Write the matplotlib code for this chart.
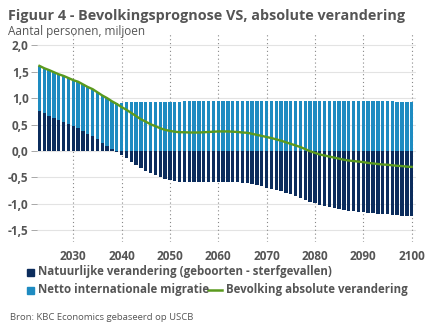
import matplotlib.pyplot as plt
import numpy as np

# jaren 2023-2100
years = list(range(2023, 2101))

# natuurlijke verandering (geboorten - sterfgevallen), miljoen
natural = [0.76, 0.715, 0.67, 0.63, 0.59, 0.55, 0.51, 0.47, 0.43, 0.38,
           0.33, 0.28, 0.22, 0.16, 0.10, 0.04, -0.02, -0.08, -0.14, -0.20,
           -0.26, -0.32, -0.37, -0.42, -0.46, -0.50, -0.53, -0.55, -0.57, -0.58,
           -0.585, -0.59, -0.59, -0.59, -0.59, -0.585, -0.58, -0.58, -0.58, -0.58,
           -0.585, -0.59, -0.60, -0.61, -0.63, -0.65, -0.67, -0.69, -0.71, -0.735,
           -0.76, -0.79, -0.82, -0.85, -0.88, -0.92, -0.96, -0.99, -1.02, -1.04,
           -1.06, -1.08, -1.10, -1.115, -1.13, -1.14, -1.15, -1.16, -1.17, -1.18,
           -1.19, -1.195, -1.20, -1.21, -1.215, -1.22, -1.225, -1.23]

# netto internationale migratie, miljoen
migration = [0.85, 0.85, 0.86, 0.86, 0.86, 0.87, 0.87, 0.87, 0.88, 0.88,
             0.88, 0.89, 0.89, 0.89, 0.90, 0.90, 0.91, 0.91, 0.92, 0.92,
             0.92, 0.92, 0.925, 0.925, 0.93, 0.93, 0.93, 0.93, 0.935, 0.935,
             0.94, 0.94, 0.94, 0.94, 0.945, 0.945, 0.945, 0.95, 0.95, 0.95,
             0.95, 0.95, 0.95, 0.955, 0.955, 0.955, 0.955, 0.955, 0.955, 0.955,
             0.955, 0.955, 0.955, 0.955, 0.955, 0.955, 0.955, 0.955, 0.955, 0.955,
             0.955, 0.955, 0.955, 0.95, 0.95, 0.95, 0.95, 0.95, 0.945, 0.945,
             0.945, 0.94, 0.94, 0.94, 0.935, 0.935, 0.93, 0.93]

x_ticks = [2030, 2040, 2050, 2060, 2070, 2080, 2090, 2100]
y_ticks = [-1.5, -1.0, -0.5, 0.0, 0.5, 1.0, 1.5, 2.0]

c_nat = '#0b2c5c'
c_mig = '#1e8bc1'
c_line = '#5b9a1e'
c_txt = '#555555'

plt.rcParams['font.family'] = ['Open Sans', 'DejaVu Sans']

yr = np.array(years)
nat = np.array(natural)
mig = np.array(migration)
total = nat + mig
# migratie stapelt op natuurlijke verandering als die positief is
mig_base = np.where(nat > 0, nat, 0)

fig = plt.figure(figsize=(4.32, 3.34), dpi=100)
ax = fig.add_axes([37 / 432, 1 - 242 / 334, (416 - 37) / 432, (242 - 32) / 334])

ax.bar(yr, nat, width=0.7, color=c_nat, zorder=2)
ax.bar(yr, mig, bottom=mig_base, width=0.7, color=c_mig, zorder=2)
ax.plot(yr, total, color=c_line, lw=1.7, zorder=3)

ax.set_xlim(2022.5, 2100.9)
ax.set_ylim(-1.72, 2.25)
ax.set_yticks(y_ticks)
ax.set_yticklabels([f'{v:.1f}'.replace('.', ',') for v in y_ticks])
ax.set_xticks(x_ticks)

for v in y_ticks:
    ax.axhline(v, color='#e3e3e3', lw=0.8, zorder=1)
for v in x_ticks:
    ax.axvline(v, color='#888888', lw=0.8, ls=(0, (1, 2.5)), zorder=1)

for s in ax.spines.values():
    s.set_visible(False)
ax.tick_params(axis='y', length=4, width=0.6, color='#999999', pad=2,
               labelsize=8.5, labelcolor=c_txt)
ax.tick_params(axis='x', length=0, pad=6, labelsize=8.5, labelcolor=c_txt)
for lab in ax.get_xticklabels() + ax.get_yticklabels():
    lab.set_fontweight('bold')

fig.text(8 / 432, 1 - 16 / 334, 'Figuur 4 - Bevolkingsprognose VS, absolute verandering',
         fontsize=10.4, fontweight='bold', color=c_txt, va='center')
fig.text(8 / 432, 1 - 32 / 334, 'Aantal personen, miljoen', fontsize=8.5,
         color=c_txt, va='center')

# legenda
fig.patches.append(plt.Rectangle((27 / 432, 1 - 276 / 334), 7 / 432, 7 / 334,
                                 color=c_nat, transform=fig.transFigure))
fig.text(38 / 432, 1 - 272 / 334, 'Natuurlijke verandering (geboorten - sterfgevallen)',
         fontsize=8.3, fontweight='bold', color=c_txt, va='center')
fig.patches.append(plt.Rectangle((27 / 432, 1 - 294 / 334), 7 / 432, 7 / 334,
                                 color=c_mig, transform=fig.transFigure))
fig.text(38 / 432, 1 - 290 / 334, 'Netto internationale migratie',
         fontsize=8.3, fontweight='bold', color=c_txt, va='center')
fig.add_artist(plt.Line2D([208 / 432, 222 / 432], [1 - 290 / 334, 1 - 290 / 334],
                          color=c_line, lw=1.8, transform=fig.transFigure))
fig.text(226 / 432, 1 - 290 / 334, 'Bevolking absolute verandering',
         fontsize=8.3, fontweight='bold', color=c_txt, va='center')

fig.text(10 / 432, 1 - 317 / 334, 'Bron: KBC Economics gebaseerd op USCB',
         fontsize=6.8, color=c_txt, va='center')

fig.savefig('out.png', dpi=100)
